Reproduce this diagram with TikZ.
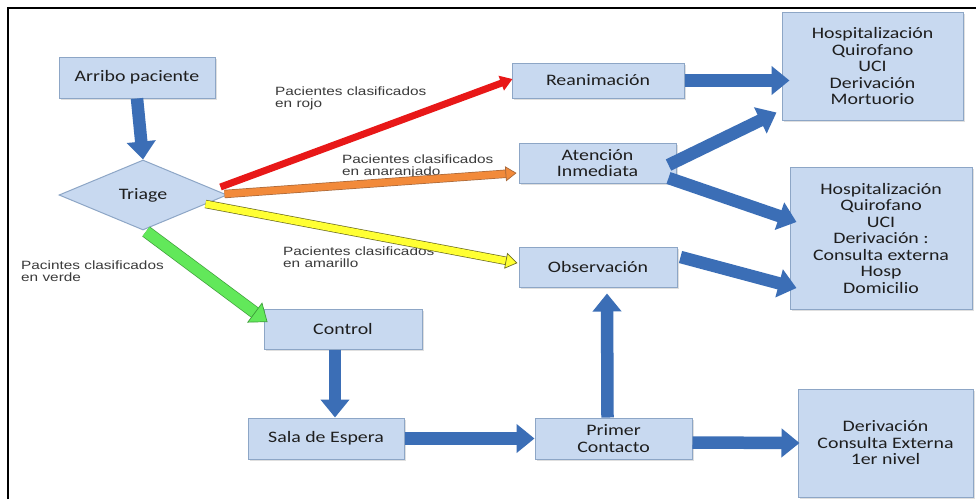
\documentclass[tikz,border=0pt]{standalone}
\usepackage{fontspec}
\newfontfamily\boxfont{Carlito}[FakeStretch=1.24]
\newfontfamily\labfont{Liberation Sans}[FakeStretch=1.28]
\usetikzlibrary{arrows.meta,shapes.geometric,shadows,calc}
\definecolor{boxfill}{HTML}{C8D9F0}
\definecolor{boxline}{HTML}{8DA6C6}
\definecolor{boxtext}{HTML}{1E1E1E}
\definecolor{arrowblue}{HTML}{3B6EB6}
\definecolor{labtext}{HTML}{3A3A3A}
\definecolor{redc}{HTML}{E81818}
\definecolor{orangec}{HTML}{F28A3A}
\definecolor{orangeline}{HTML}{A8683A}
\definecolor{yellowc}{HTML}{FFFF33}
\definecolor{yellowline}{HTML}{6E6E22}
\definecolor{greenc}{HTML}{62E85A}
\definecolor{greenline}{HTML}{3E9E3A}
\tikzset{
  box/.style={rectangle, draw=boxline, fill=boxfill, line width=1pt,
    text=boxtext, align=center, inner sep=2pt,
    font=\boxfont\fontsize{16}{16.5}\selectfont,
    drop shadow={shadow xshift=1.5pt, shadow yshift=-1.5pt, opacity=0.25}},
  diam/.style={diamond, draw=boxline, fill=boxfill, line width=1pt,
    text=boxtext, inner sep=0pt, minimum width=168pt, minimum height=70pt,
    font=\boxfont\fontsize{16}{16.5}\selectfont},
  lab/.style={anchor=north west, align=left, inner sep=0pt, text=labtext,
    font=\labfont\fontsize{12}{12}\selectfont},
  barrow/.style={draw=arrowblue, line width=12.5pt,
    -{Triangle[width=28pt,length=18pt]}},
  carrow/.style={line width=7pt, -{Triangle[width=15pt,length=11pt]}},
}
\begin{document}
\begin{tikzpicture}[x=1pt,y=-1pt]
\useasboundingbox (0,0) rectangle (976,499);
\fill[white] (0,0) rectangle (976,499);
\draw[line width=2pt] (8,499) -- (8,8) -- (976,8);

% boxes
\node[box, minimum width=156pt, minimum height=41pt] (arribo) at (137,77.5) {Arribo paciente};
\node[diam] (triage) at (143,195) {Triage};
\node[box, minimum width=172pt, minimum height=35pt] (reani) at (598,80.5) {Reanimación};
\node[box, minimum width=181pt, minimum height=108pt] (hosp1) at (872.5,66) {Hospitalización\\Quirofano\\UCI\\Derivación\\Mortuorio};
\node[box, minimum width=157pt, minimum height=40pt] (aten) at (597.5,163) {Atención\\Inmediata};
\node[box, minimum width=182pt, minimum height=142pt] (hosp2) at (881,238) {Hospitalización\\Quirofano\\UCI\\Derivación :\\Consulta externa\\Hosp\\Domicilio};
\node[box, minimum width=158pt, minimum height=40pt] (obs) at (598,267) {Observación};
\node[box, minimum width=158pt, minimum height=40pt] (control) at (343,329) {Control};
\node[box, minimum width=156pt, minimum height=41pt] (sala) at (326,438.5) {Sala de Espera};
\node[box, minimum width=157pt, minimum height=41pt] (primer) at (613.5,438.5) {Primer\\Contacto};
\node[box, minimum width=175pt, minimum height=108pt] (deriv) at (885.5,443) {Derivación\\Consulta Externa\\1er nivel};

% labels
\node[lab] (lrojo) at (275,87) {Pacientes clasificados\\en rojo};
\node[lab] (lnaranja) at (342,155) {Pacientes clasificados\\en anaranjado};
\node[lab] (lamarillo) at (283,247) {Pacientes clasificados\\en amarillo};
\node[lab] (lverde) at (21,261) {Pacintes clasificados\\en verde};

% blue arrows
\draw[barrow] (arribo.south) -- (triage.north);
\draw[barrow] (reani.east) -- ($(hosp1.west|-reani.east)+(8,0)$);
\draw[barrow] ($(aten.east)+(-8,2)$) -- ($(hosp1.south west)+(-5,-8)$);
\draw[barrow] ($(aten.east)+(-8,15)$) -- ($(hosp2.west)+(7,-16)$);
\draw[barrow] ($(obs.east)+(3,-10)$) -- ($(hosp2.west)+(7,50)$);
\draw[barrow] ($(primer.north)+(-6,0)$) -- ($(obs.south)+(9,6)$);
\draw[barrow] (sala.east) -- (primer.west);
\draw[barrow] ($(primer.east)+(0,4)$) -- ($(deriv.west)+(2,0)$);
\draw[barrow] ($(control.south)+(-8,0)$) -- ($(sala.north)+(9,0)$);

% coloured arrows
\draw[carrow, draw=redc, -{Triangle[width=15pt,length=12pt,fill=redc,color=redc]}]
  ($(triage.east)+(-7,-8)$) -- ($(reani.west)+(1,-1.5)$);
\draw[carrow, draw=orangec,
  preaction={draw=orangeline, line width=8.4pt, -, shorten >=9pt},
  -{Triangle[width=15pt,length=11pt,fill=orangec,color=orangeline,line width=0.7pt]}]
  ($(triage.east)+(-3,-1)$) -- ($(aten.west)+(-2,10)$);
\draw[carrow, draw=yellowc,
  preaction={draw=yellowline, line width=8.4pt, -, shorten >=9pt},
  -{Triangle[width=16pt,length=12pt,fill=yellowc,color=yellowline,line width=0.7pt]}]
  ($(triage.east)+(-22,9)$) -- ($(obs.west)+(-1,-4)$);
\draw[draw=greenc, line width=11pt,
  preaction={draw=greenline, line width=12.4pt, -, shorten >=12pt},
  -{Triangle[width=25pt,length=16pt,fill=greenc,color=greenline,line width=0.7pt]}]
  ($(triage.south)+(3,1)$) -- ($(control.west)+(4,-7)$);
\end{tikzpicture}
\end{document}
